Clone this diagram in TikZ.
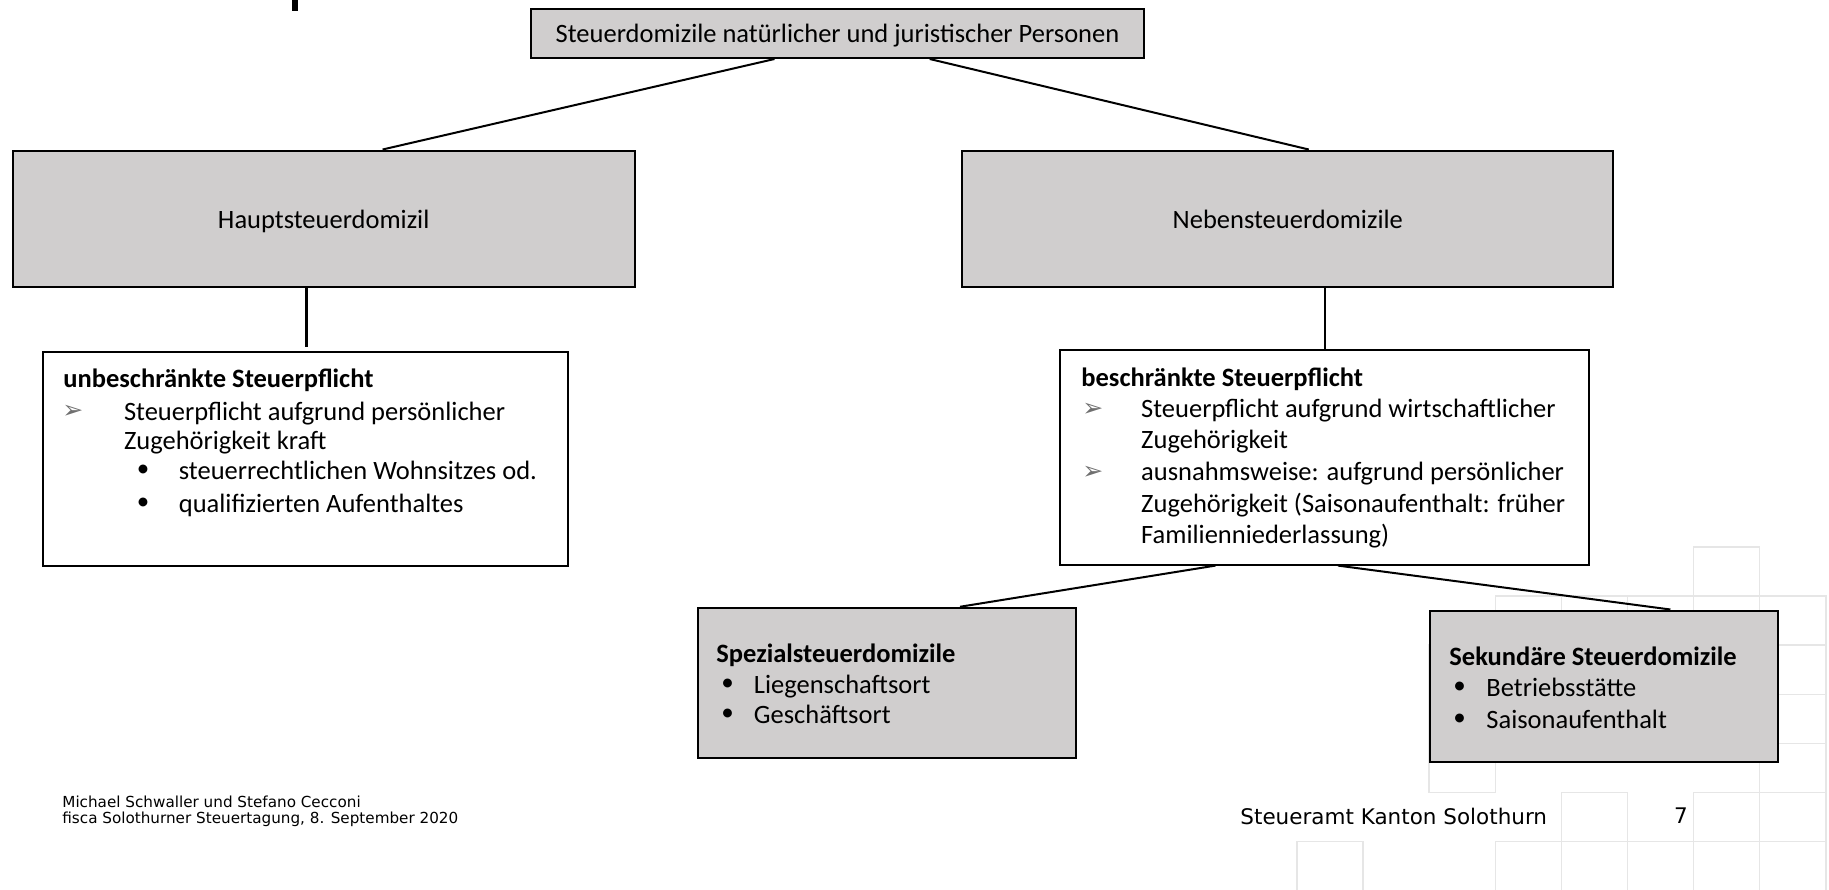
\documentclass[tikz,border=0pt]{standalone}
\usepackage{fontspec}
\setmainfont{Carlito}
\newfontfamily\dv{DejaVu Sans}
\usetikzlibrary{calc}
\definecolor{boxgray}{HTML}{D0CECE}
\definecolor{gridgray}{HTML}{E6E6E6}
\definecolor{arrowgray}{HTML}{6F6F6F}
\begin{document}
\begin{tikzpicture}[x=0.5pt,y=-0.5pt,
  gbox/.style={draw=black, line width=1pt, fill=boxgray, inner sep=0pt, text height=1.0em, text depth=0.06em, font=\fontsize{13.25}{16}\selectfont},
  wbox/.style={draw=black, line width=1pt, fill=white, inner sep=0pt},
  ln/.style={anchor=west, inner sep=0pt, text height=0.9em, text depth=0.06em, font=\fontsize{13.25}{16}\selectfont},
  bul/.style={anchor=west, inner sep=0pt, text height=0.63em, text depth=0.07em, font=\fontsize{12.5}{14}\selectfont},
  arr/.style={anchor=west, inner sep=0pt, text=arrowgray, font=\dv\fontsize{12.5}{14}\selectfont},
  conn/.style={draw=black, line width=1pt},
  thickconn/.style={draw=black, line width=1.7pt},
  cell/.style={draw=gridgray, line width=0.75pt},
  foot/.style={anchor=west, inner sep=0pt, font=\dv\fontsize{7.6}{9}\selectfont}]
\useasboundingbox (0,0) rectangle (1829,889);
\fill[white] (0,0) rectangle (1829,889);
% background grid pattern
\foreach \i/\j in {6/0,3/1,4/1,5/1,6/1,7/1,7/2,7/3,7/4,7/5,7/6,2/2,2/3,2/4,4/5,6/5,0/6,3/6,4/6,5/6,6/6}
  \draw[cell] ({1297+66.1*\i},{547+49.1*\j}) rectangle ++(66.1,49.1);
% fragment of title at top left
\fill[black] (292,0) rectangle (298,11);
% boxes
\node[gbox, minimum width=306.5pt, minimum height=24.5pt] (top) at (837.5,33.5) {Steuerdomizile natürlicher und juristischer Personen};
\node[gbox, minimum width=311pt, minimum height=68.25pt] (haupt) at (323.7,218.75) {Hauptsteuerdomizil};
\node[gbox, minimum width=325.5pt, minimum height=68.25pt] (neben) at (1287.75,218.75) {Nebensteuerdomizile};
\node[wbox, minimum width=262.4pt, minimum height=106.85pt] (unb) at (305.6,458.9) {};
\node[wbox, minimum width=264.2pt, minimum height=107.3pt] (besch) at (1324.5,457.3) {};
\node[gbox, minimum width=189pt, minimum height=75.25pt] (spez) at (886.5,683) {};
\node[gbox, minimum width=174pt, minimum height=75.75pt] (sek) at (1604,686.25) {};
% connectors
\coordinate (tl) at ($(top.south)+(-63,0)$);
\coordinate (tr) at ($(top.south)+(92.2,0)$);
\coordinate (hn) at ($(haupt.north)+(58.9,0)$);
\coordinate (nn) at ($(neben.north)+(21,0)$);
\draw[conn] (tl) -- (hn);
\draw[conn] (tr) -- (nn);
\coordinate (ut) at ($(unb.north)+(1,-4)$);
\draw[thickconn] (haupt.south -| ut) -- (ut);
\draw[conn] (neben.south -| besch.north) -- (besch.north);
\coordinate (bl) at ($(besch.south)+(-109.1,0)$);
\coordinate (br) at ($(besch.south)+(13.5,0)$);
\coordinate (sn) at ($(spez.north)+(73.5,0)$);
\coordinate (kn) at ($(sek.north)+(66.4,0)$);
\draw[conn] (bl) -- (sn);
\draw[conn] (br) -- (kn);
% unbeschränkte Steuerpflicht
\node[ln] (u0) at (63,379) {\textbf{unbeschränkte Steuerpflicht}};
\node[arr] (ua1) at (62,411.8) {➢};
\node[ln] (u1) at (123.6,411.8) {Steuerpflicht aufgrund persönlicher};
\node[ln] (u2) at (123.6,441) {Zugehörigkeit kraft};
\node[bul] (ub3) at (136.5,471) {•};
\node[ln] (u3) at (178.5,471) {steuerrechtlichen Wohnsitzes od.};
\node[bul] (ub4) at (136.5,504) {•};
\node[ln] (u4) at (178.5,504) {qualifizierten Aufenthaltes};
% beschränkte Steuerpflicht
\node[ln] (b0) at (1081,378) {\textbf{beschränkte Steuerpflicht}};
\node[arr] (ba1) at (1082,409.5) {➢};
\node[ln] (b1) at (1140.8,409.5) {Steuerpflicht aufgrund wirtschaftlicher};
\node[ln] (b2) at (1140.8,439.8) {Zugehörigkeit};
\node[arr] (ba3) at (1082,472.4) {➢};
\node[ln] (b3) at (1140.8,472.4) {ausnahmsweise: aufgrund persönlicher};
\node[ln] (b4) at (1140.8,504) {Zugehörigkeit (Saisonaufenthalt: früher};
\node[ln] (b5) at (1140.8,535.4) {Familienniederlassung)};
% Spezialsteuerdomizile
\node[ln] (s0) at (716,654.4) {\textbf{Spezialsteuerdomizile}};
\node[bul] (sb1) at (721,684.7) {•};
\node[ln] (s1) at (753.5,684.7) {Liegenschaftsort};
\node[bul] (sb2) at (721,715) {•};
\node[ln] (s2) at (753.5,715) {Geschäftsort};
% Sekundäre Steuerdomizile
\node[ln] (k0) at (1449,656.7) {\textbf{Sekundäre Steuerdomizile}};
\node[bul] (kb1) at (1453,688) {•};
\node[ln] (k1) at (1486,688) {Betriebsstätte};
\node[bul] (kb2) at (1453,719.7) {•};
\node[ln] (k2) at (1486,719.7) {Saisonaufenthalt};
% footer
\node[foot] (f1) at (62,802) {Michael Schwaller und Stefano Cecconi};
\node[foot] (f2) at (62,819) {fisca Solothurner Steuertagung, 8. September 2020};
\node[anchor=west, inner sep=0pt, font=\dv\fontsize{10.75}{13}\selectfont] (amt) at (1240,816) {Steueramt Kanton Solothurn};
\node[inner sep=0pt, font=\dv\fontsize{10.75}{13}\selectfont] (pg) at (1681,816) {7};
\end{tikzpicture}
\end{document}
